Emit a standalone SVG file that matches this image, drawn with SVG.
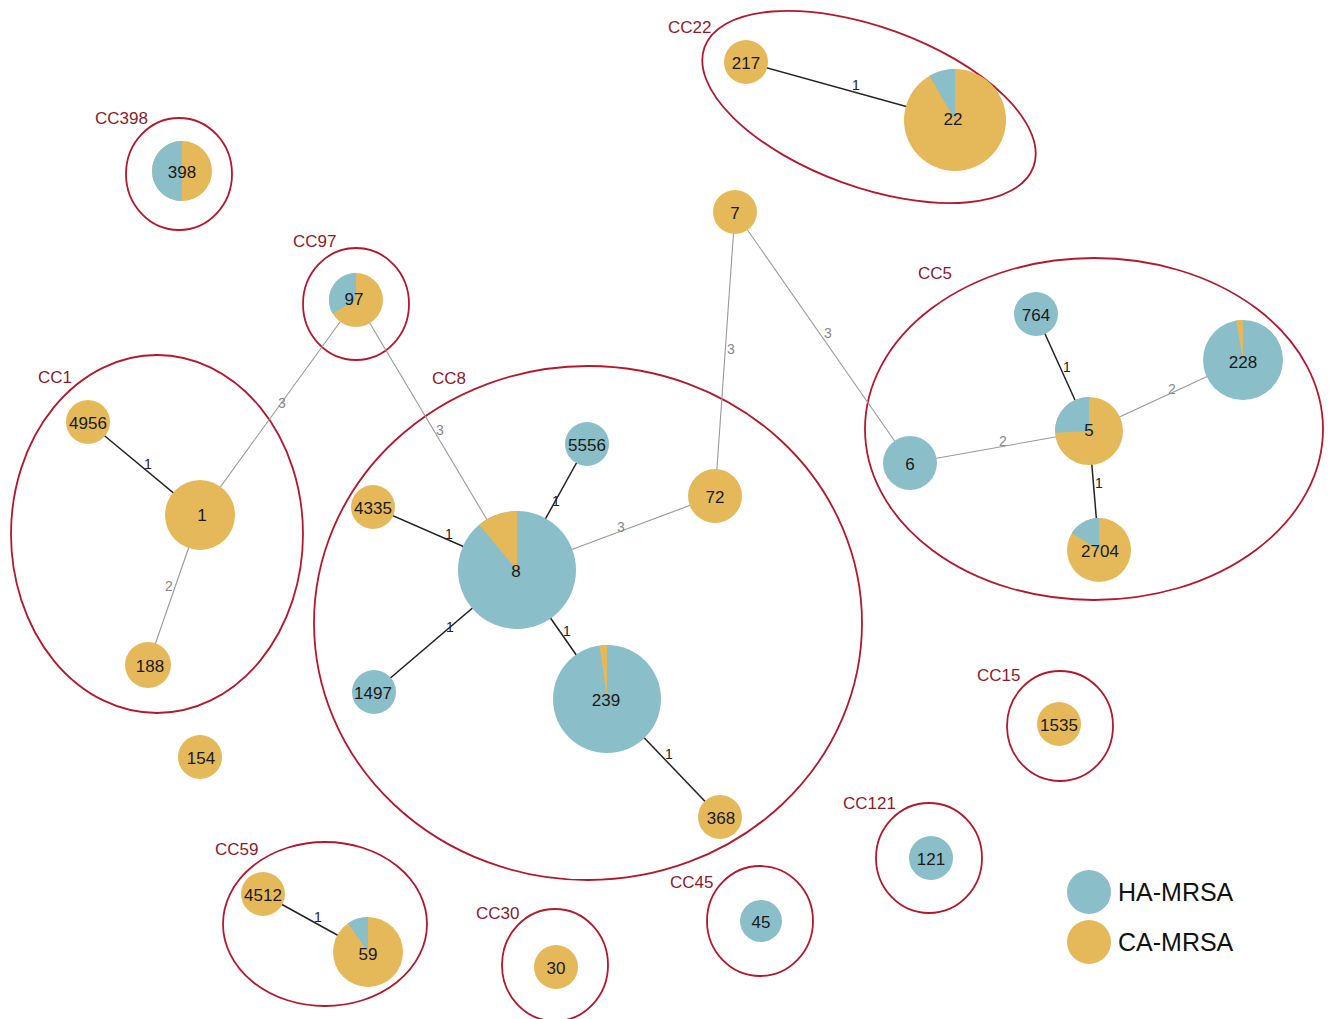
<svg xmlns="http://www.w3.org/2000/svg" width="1333" height="1019" viewBox="0 0 1333 1019">
<style>
  .ha{fill:#8ABEC8}
  .ca{fill:#E5B95A}
  .grp{fill:none;stroke:#B3192C;stroke-width:1.8}
  .cc{font-family:"Liberation Sans",Arial,sans-serif;font-size:17px;fill:#8E1B2B}
  .nl{font-family:"Liberation Sans",Arial,sans-serif;font-size:17px;fill:#1a1a1a;text-anchor:middle;dominant-baseline:central}
  .e1{stroke:#222;stroke-width:1.5}
  .e2{stroke:#999;stroke-width:1.1}
  .el1{font-family:"Liberation Sans",Arial,sans-serif;font-size:14px;fill:#222;text-anchor:middle;dominant-baseline:central}
  .el2{font-family:"Liberation Sans",Arial,sans-serif;font-size:14px;fill:#888;text-anchor:middle;dominant-baseline:central}
  .lg{font-family:"Liberation Sans",Arial,sans-serif;font-size:25px;fill:#111}
</style>
<rect width="1333" height="1019" fill="#fff"/>

<g id="groups">
  <ellipse id="cc22" class="grp" cx="869" cy="107" rx="175" ry="80" transform="rotate(20 869 107)"/>
  <ellipse id="cc398" class="grp" cx="179" cy="174" rx="53" ry="56"/>
  <ellipse id="cc97" class="grp" cx="356" cy="304" rx="53" ry="56"/>
  <ellipse id="cc1" class="grp" cx="157" cy="534" rx="146" ry="179"/>
  <ellipse id="cc8" class="grp" cx="588" cy="623" rx="274" ry="257"/>
  <ellipse id="cc5" class="grp" cx="1094" cy="429" rx="229" ry="171"/>
  <ellipse id="cc15" class="grp" cx="1060" cy="726" rx="53" ry="55"/>
  <ellipse id="cc121" class="grp" cx="929" cy="858" rx="53" ry="55"/>
  <ellipse id="cc45" class="grp" cx="760" cy="921" rx="53" ry="55"/>
  <ellipse id="cc30" class="grp" cx="555" cy="965" rx="53" ry="56"/>
  <ellipse id="cc59" class="grp" cx="325" cy="924" rx="102" ry="82"/>
  <text class="cc" x="95" y="124">CC398</text>
  <text class="cc" x="293" y="247">CC97</text>
  <text class="cc" x="38" y="383">CC1</text>
  <text class="cc" x="432" y="384">CC8</text>
  <text class="cc" x="668" y="33">CC22</text>
  <text class="cc" x="918" y="279">CC5</text>
  <text class="cc" x="977" y="681">CC15</text>
  <text class="cc" x="843" y="809">CC121</text>
  <text class="cc" x="670" y="888">CC45</text>
  <text class="cc" x="215" y="855">CC59</text>
  <text class="cc" x="476" y="919">CC30</text>
</g>

<g id="connectors">
  <line class="e1" x1="88" y1="422" x2="200" y2="515"/>
  <line class="e2" x1="200" y1="515" x2="148" y2="665"/>
  <line class="e2" x1="200" y1="515" x2="356" y2="300"/>
  <line class="e2" x1="356" y1="300" x2="517" y2="570"/>
  <line class="e1" x1="373" y1="507" x2="517" y2="570"/>
  <line class="e1" x1="587" y1="444" x2="517" y2="570"/>
  <line class="e2" x1="715" y1="496" x2="517" y2="570"/>
  <line class="e1" x1="374" y1="692" x2="517" y2="570"/>
  <line class="e1" x1="517" y1="570" x2="607" y2="699"/>
  <line class="e1" x1="607" y1="699" x2="720" y2="817"/>
  <line class="e2" x1="715" y1="496" x2="735" y2="212"/>
  <line class="e2" x1="735" y1="212" x2="910" y2="463"/>
  <line class="e2" x1="910" y1="463" x2="1089" y2="431"/>
  <line class="e2" x1="1089" y1="431" x2="1243" y2="360"/>
  <line class="e1" x1="1036" y1="314" x2="1089" y2="431"/>
  <line class="e1" x1="1089" y1="431" x2="1099" y2="550"/>
  <line class="e1" x1="746" y1="62" x2="955" y2="120"/>
  <line class="e1" x1="263" y1="894" x2="368" y2="952"/>
  <text class="el1" x="148" y="464">1</text>
  <text class="el2" x="169" y="586">2</text>
  <text class="el2" x="282" y="403">3</text>
  <text class="el2" x="440" y="430">3</text>
  <text class="el1" x="449" y="534">1</text>
  <text class="el1" x="556" y="501">1</text>
  <text class="el2" x="621" y="527">3</text>
  <text class="el1" x="450" y="627">1</text>
  <text class="el1" x="567" y="631">1</text>
  <text class="el1" x="669" y="754">1</text>
  <text class="el2" x="731" y="349">3</text>
  <text class="el2" x="828" y="333">3</text>
  <text class="el2" x="1003" y="441">2</text>
  <text class="el2" x="1172" y="389">2</text>
  <text class="el1" x="1067" y="367">1</text>
  <text class="el1" x="1099" y="483">1</text>
  <text class="el1" x="856" y="85">1</text>
  <text class="el1" x="318" y="917">1</text>
</g>

<g id="n217"><circle class="ca" cx="746" cy="62" r="22"/><text class="nl" x="746" y="63">217</text></g>
<g id="n22"><circle class="ca" cx="955" cy="120" r="51"/><path class="ha" d="M955,120 L955,69 A51,51 0 0,0 929.5,75.8 Z"/><text class="nl" x="953" y="119">22</text></g>
<g id="n7"><circle class="ca" cx="735" cy="212" r="22"/><text class="nl" x="735" y="213">7</text></g>
<g id="n398"><circle class="ca" cx="182" cy="171" r="30"/><path class="ha" d="M182,141 A30,30 0 0,0 182,201 Z"/><text class="nl" x="182" y="172">398</text></g>
<g id="n97"><circle class="ca" cx="356" cy="300" r="27"/><path class="ha" d="M356,300 L356,273 A27,27 0 0,0 332.6,313.5 Z"/><text class="nl" x="354" y="299">97</text></g>
<g id="n4956"><circle class="ca" cx="88" cy="422" r="22"/><text class="nl" x="88" y="423">4956</text></g>
<g id="n1"><circle class="ca" cx="200" cy="515" r="35"/><text class="nl" x="202" y="515">1</text></g>
<g id="n188"><circle class="ca" cx="148" cy="665" r="23"/><text class="nl" x="150" y="666">188</text></g>
<g id="n154"><circle class="ca" cx="200" cy="757" r="22"/><text class="nl" x="201" y="758">154</text></g>
<g id="n8"><circle class="ha" cx="517" cy="570" r="59"/><path class="ca" d="M517,570 L517,511 A59,59 0 0,0 479.1,524.8 Z"/><text class="nl" x="516" y="571">8</text></g>
<g id="n5556"><circle class="ha" cx="587" cy="444" r="22"/><text class="nl" x="587" y="445">5556</text></g>
<g id="n4335"><circle class="ca" cx="373" cy="507" r="22"/><text class="nl" x="373" y="508">4335</text></g>
<g id="n72"><circle class="ca" cx="715" cy="496" r="27"/><text class="nl" x="715" y="497">72</text></g>
<g id="n1497"><circle class="ha" cx="374" cy="692" r="22"/><text class="nl" x="373" y="693">1497</text></g>
<g id="n239"><circle class="ha" cx="607" cy="699" r="54"/><path class="ca" d="M607,699 L607,645 A54,54 0 0,0 599.5,645.5 Z"/><text class="nl" x="606" y="700">239</text></g>
<g id="n368"><circle class="ca" cx="720" cy="817" r="22"/><text class="nl" x="721" y="818">368</text></g>
<g id="n764"><circle class="ha" cx="1036" cy="314" r="22"/><text class="nl" x="1036" y="315">764</text></g>
<g id="n228"><circle class="ha" cx="1243" cy="360" r="40"/><path class="ca" d="M1243,360 L1243,320 A40,40 0 0,0 1236.1,320.6 Z"/><text class="nl" x="1243" y="362">228</text></g>
<g id="n5"><circle class="ca" cx="1089" cy="431" r="34"/><path class="ha" d="M1089,431 L1089,397 A34,34 0 0,0 1055.05,432.8 Z"/><text class="nl" x="1089" y="430">5</text></g>
<g id="n6"><circle class="ha" cx="910" cy="463" r="27"/><text class="nl" x="910" y="464">6</text></g>
<g id="n2704"><circle class="ca" cx="1099" cy="550" r="32"/><path class="ha" d="M1099,550 L1099,518 A32,32 0 0,0 1071.9,533 Z"/><text class="nl" x="1100" y="551">2704</text></g>
<g id="n1535"><circle class="ca" cx="1059" cy="724" r="22"/><text class="nl" x="1059" y="725">1535</text></g>
<g id="n121"><circle class="ha" cx="931" cy="858" r="22"/><text class="nl" x="931" y="859">121</text></g>
<g id="n45"><circle class="ha" cx="761" cy="921" r="21"/><text class="nl" x="761" y="922">45</text></g>
<g id="n30"><circle class="ca" cx="556" cy="967" r="22"/><text class="nl" x="556" y="968">30</text></g>
<g id="n4512"><circle class="ca" cx="263" cy="894" r="22"/><text class="nl" x="263" y="895">4512</text></g>
<g id="n59"><circle class="ca" cx="368" cy="952" r="35"/><path class="ha" d="M368,952 L368,917 A35,35 0 0,0 347.9,923.3 Z"/><text class="nl" x="368" y="954">59</text></g>

<g id="legend">
  <circle class="ha" cx="1089" cy="892" r="22"/>
  <text class="lg" x="1118" y="901">HA-MRSA</text>
  <circle class="ca" cx="1089" cy="942" r="22"/>
  <text class="lg" x="1118" y="951">CA-MRSA</text>
</g>
</svg>
